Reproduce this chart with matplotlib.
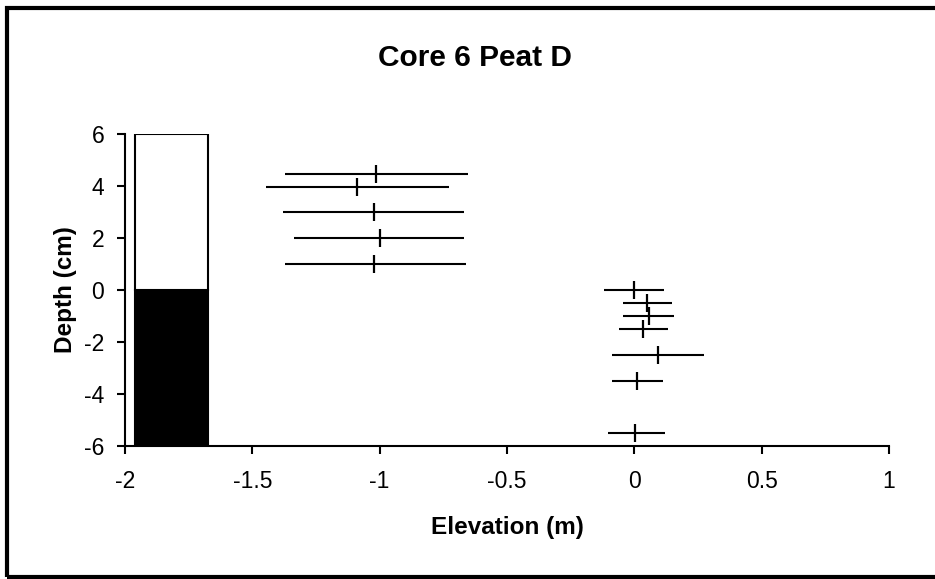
import matplotlib
matplotlib.use("Agg")
import matplotlib.pyplot as plt
from matplotlib.patches import Rectangle

plt.rcParams["font.family"] = ["Liberation Sans", "DejaVu Sans"]
plt.rcParams["axes.unicode_minus"] = False

# stratigraphy column: peat below 0 cm, open above
column_x = -1.818
column_width = 0.286
column_bottoms = [-6, 0]
column_heights = [6, 6]
column_colors = ["black", "white"]

# elevation estimates with asymmetric ranges (m) against sample depth (cm)
depth_upper = [4.45, 3.95, 3.0, 2.0, 1.0]
elev_upper = [-1.015, -1.089, -1.021, -0.999, -1.021]
low_upper = [-1.372, -1.448, -1.380, -1.335, -1.372]
high_upper = [-0.655, -0.729, -0.668, -0.668, -0.662]

depth_lower = [0.0, -0.5, -1.0, -1.5, -2.5, -3.5, -5.5]
elev_lower = [-0.003, 0.048, 0.056, 0.034, 0.093, 0.011, 0.004]
low_lower = [-0.118, -0.044, -0.044, -0.059, -0.088, -0.088, -0.102]
high_lower = [0.117, 0.149, 0.157, 0.133, 0.274, 0.111, 0.119]

x_ticks = [-2, -1.5, -1, -0.5, 0, 0.5, 1]
x_tick_labels = ["-2", "-1.5", "-1", "-0.5", "0", "0.5", "1"]
y_ticks = [-6, -4, -2, 0, 2, 4, 6]

fig = plt.figure(figsize=(9.35, 5.79), dpi=100)
ax = fig.add_axes([125 / 935, 1 - 446 / 579, 764 / 935, 312 / 579])

ax.bar([column_x] * 2, column_heights, width=column_width,
       bottom=column_bottoms, color=column_colors,
       edgecolor="black", linewidth=1.5, zorder=2)

for depth, elev, lo, hi in ((depth_upper, elev_upper, low_upper, high_upper),
                            (depth_lower, elev_lower, low_lower, high_lower)):
    xerr = [[e - l for e, l in zip(elev, lo)],
            [h - e for e, h in zip(elev, hi)]]
    ax.errorbar(elev, depth, xerr=xerr, fmt="|", color="black",
                markersize=13, markeredgewidth=1.6, elinewidth=1.5,
                capsize=0, zorder=3)

ax.set_xlim(-2, 1)
ax.set_ylim(-6, 6)
ax.set_xticks(x_ticks)
ax.set_xticklabels(x_tick_labels)
ax.set_yticks(y_ticks)

for side in ("top", "right"):
    ax.spines[side].set_visible(False)
for side in ("left", "bottom"):
    ax.spines[side].set_linewidth(1.5)
    ax.spines[side].set_color("black")

ax.tick_params(axis="both", direction="out", length=6, width=1.5,
               labelsize=16.5, colors="black")
ax.tick_params(axis="x", pad=11)
ax.tick_params(axis="y", pad=9)

ax.set_xlabel("Elevation (m)", fontsize=17.5, fontweight="bold")
ax.set_ylabel("Depth (cm)", fontsize=17.5, fontweight="bold")
ax.xaxis.set_label_coords(0.5, -0.26)
ax.xaxis.label.set_va("center")
ax.yaxis.set_label_coords(-0.0785, 0.5)
ax.yaxis.label.set_va("center")

fig.text(474.5 / 935, 1 - 57.5 / 579, "Core 6 Peat D", ha="center",
         va="center", fontsize=21.5, fontweight="bold")

# chart frame
fig.patches.append(Rectangle((7 / 935, 2 / 579), 1.1, 1 - 10 / 579,
                             transform=fig.transFigure, fill=False,
                             edgecolor="black", linewidth=3))

fig.savefig("out.png", dpi=100)
